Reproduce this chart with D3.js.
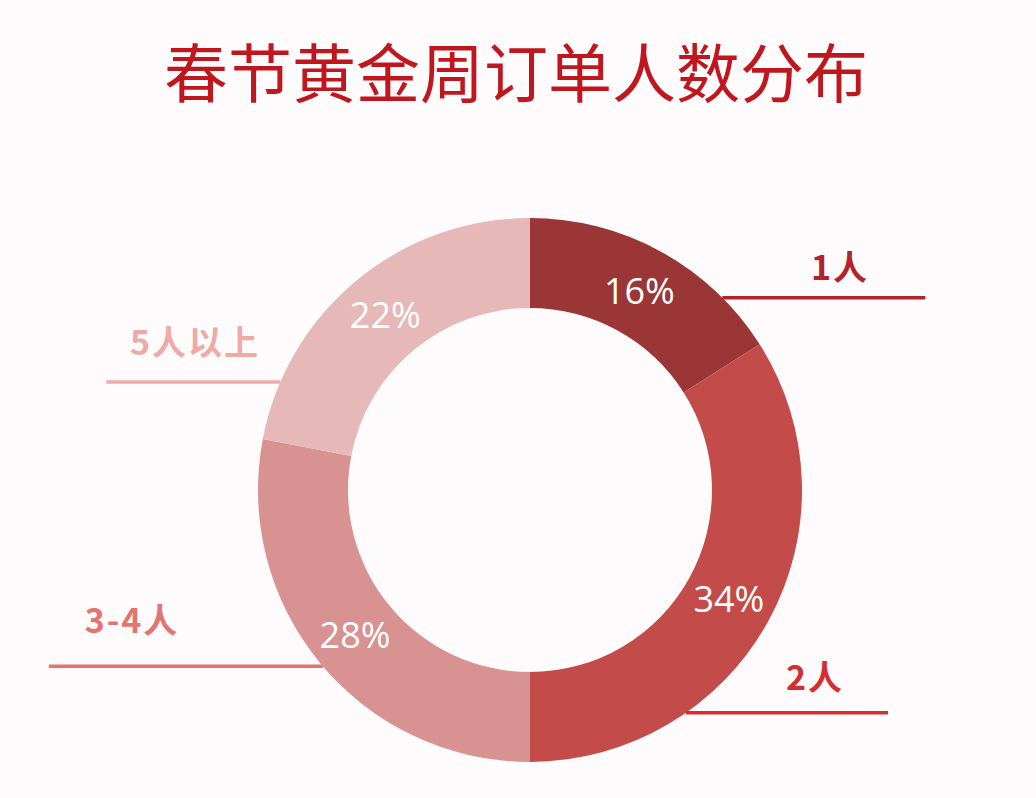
<!DOCTYPE html>
<html>
<head>
<meta charset="utf-8">
<script src="https://cdn.jsdelivr.net/npm/d3@7/dist/d3.min.js"></script>
<style>
  html, body { margin: 0; padding: 0; background: #fdfbfc; }
  svg { display: block; }
</style>
</head>
<body>
<svg id="chart" width="1036" height="798"></svg>
<script>
// ---- data ----
const title = "春节黄金周订单人数分布";
const categories = ["1人", "2人", "3-4人", "5人以上"];
const values = [16, 34, 28, 22];
const valueLabels = ["16%", "34%", "28%", "22%"];

// ---- styles / layout ----
const sliceColors = ["#9b3636", "#c34c4a", "#d89291", "#e6b8b7"];
const labelColors = ["#b3232a", "#d42f2f", "#e47471", "#efaaa8"];
// leader line: angle (deg, clockwise from top) where it meets the ring, length, side
const leaders = [
  { angle: 45,    len: 203, side: 1,  textX: 840, textDy: -18 },
  { angle: 145,   len: 202, side: 1,  textX: 815, textDy: -23 },
  { angle: 229.6, len: 274, side: -1, textX: 132, textDy: -33 },
  { angle: 293.4, len: 174, side: -1, textX: 195, textDy: -27 }
];

const W = 1036, H = 798;
const cx = 530, cy = 490, rOuter = 272, rInner = 182;
const svg = d3.select("#chart");
svg.append("rect").attr("width", W).attr("height", H).attr("fill", "#fdfbfc");

svg.append("text")
  .attr("x", 516).attr("y", 97)
  .attr("text-anchor", "middle")
  .attr("font-family", "'Noto Sans CJK SC', sans-serif")
  .attr("font-size", 64)
  .attr("font-weight", 400)
  .attr("fill", "#c0171f")
  .text(title);

const pie = d3.pie().sort(null).value(d => d);
const arcs = pie(values);
const arc = d3.arc().innerRadius(rInner).outerRadius(rOuter);

const g = svg.append("g").attr("transform", `translate(${cx},${cy})`);
g.selectAll("path.slice")
  .data(arcs)
  .join("path")
  .attr("class", "slice")
  .attr("d", arc)
  .attr("fill", (d, i) => sliceColors[i]);

g.selectAll("text.pct")
  .data(arcs)
  .join("text")
  .attr("class", "pct")
  .attr("transform", d => `translate(${arc.centroid(d)})`)
  .attr("text-anchor", "middle")
  .attr("dy", "0.36em")
  .attr("font-family", "'Open Sans', 'Noto Sans', sans-serif")
  .attr("font-size", 36)
  .attr("fill", "#ffffff")
  .text((d, i) => valueLabels[i]);

// leader lines and category labels
leaders.forEach((l, i) => {
  const a = l.angle * Math.PI / 180;
  const x0 = cx + rOuter * Math.sin(a);
  const y0 = cy - rOuter * Math.cos(a);
  const x1 = x0 + l.side * l.len;
  svg.append("line")
    .attr("x1", x0).attr("y1", y0)
    .attr("x2", x1).attr("y2", y0)
    .attr("stroke", labelColors[i])
    .attr("stroke-width", 3.5);
  svg.append("text")
    .attr("x", l.textX).attr("y", y0 + l.textDy)
    .attr("text-anchor", "middle")
    .attr("font-family", "'Noto Sans CJK SC', sans-serif")
    .attr("font-size", 34)
    .attr("font-weight", 700)
    .attr("letter-spacing", 2)
    .attr("fill", labelColors[i])
    .text(categories[i]);
});
</script>
</body>
</html>
